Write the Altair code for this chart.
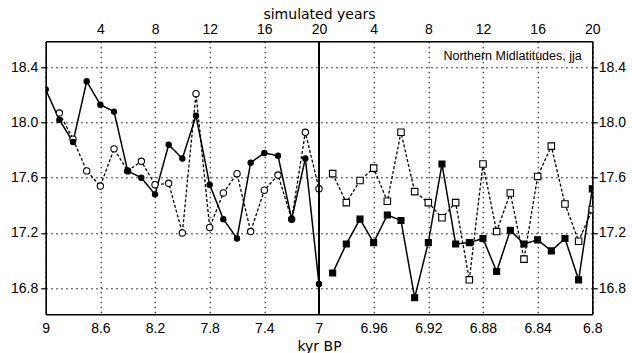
import altair as alt
import pandas as pd

# ---- axis tick values / labels ----
tick_pos = [0, 4, 8, 12, 16, 20, 24, 28, 32, 36, 40]
kyr_labels = ["9", "8.6", "8.2", "7.8", "7.4", "7", "6.96", "6.92", "6.88", "6.84", "6.8"]
year_labels = ["", "4", "8", "12", "16", "20", "4", "8", "12", "16", "20"]
y_ticks = [16.8, 17.2, 17.6, 18.0, 18.4]
y_domain = [16.61, 18.59]
x_domain = [0, 40]
panel_break = 20
title_text = "Northern Midlatitudes, jja"

# ---- data: position on the combined simulated-year axis ----
# left run (9 -> 7 kyr BP), simulated years 0..20
left_solid_pos = [0, 1, 2, 3, 4, 5, 6, 7, 8, 9, 10, 11, 12, 13, 14, 15, 16, 17, 18, 19, 20]
left_solid = [18.24, 18.02, 17.86, 18.30, 18.13, 18.08, 17.65, 17.60, 17.48, 17.84, 17.74,
              18.05, 17.55, 17.30, 17.16, 17.71, 17.78, 17.76, 17.30, 17.74, 16.83]
left_dash_pos = [1, 2, 3, 4, 5, 6, 7, 8, 9, 10, 11, 12, 13, 14, 15, 16, 17, 18, 19, 20]
left_dash = [18.07, 17.88, 17.65, 17.54, 17.81, 17.65, 17.72, 17.55, 17.56, 17.20,
             18.21, 17.24, 17.49, 17.63, 17.21, 17.51, 17.62, 17.30, 17.93, 17.52]
# right run (7 -> 6.8 kyr BP), simulated years 1..20 (placed at 21..40)
right_pos = [21, 22, 23, 24, 25, 26, 27, 28, 29, 30, 31, 32, 33, 34, 35, 36, 37, 38, 39, 40]
right_solid = [16.91, 17.12, 17.30, 17.13, 17.33, 17.29, 16.73, 17.13, 17.70, 17.12,
               17.13, 17.16, 16.92, 17.22, 17.12, 17.15, 17.07, 17.16, 16.86, 17.52]
right_dash = [17.63, 17.42, 17.58, 17.67, 17.43, 17.93, 17.50, 17.42, 17.31, 17.42,
              16.86, 17.70, 17.21, 17.49, 17.01, 17.61, 17.83, 17.41, 17.14, 17.37]

df_ls = pd.DataFrame({"pos": left_solid_pos, "value": left_solid})
df_ld = pd.DataFrame({"pos": left_dash_pos, "value": left_dash})
df_rs = pd.DataFrame({"pos": right_pos, "value": right_solid})
df_rd = pd.DataFrame({"pos": right_pos, "value": right_dash})

FONT = "Liberation Sans"
TFONT = "DejaVu Sans"

def arr(lst):
    return "[" + ",".join("'" + s + "'" for s in lst) + "]"

x_bottom = alt.X(
    "pos:Q",
    scale=alt.Scale(domain=x_domain, nice=False, zero=False),
    axis=alt.Axis(
        values=tick_pos, labelExpr=arr(kyr_labels) + "[round(datum.value/4)]",
        title="kyr  BP", titleY=36.5, titleBaseline="alphabetic",
        ticks=False, tickSize=0, labelPadding=18, labelBaseline="alphabetic",
        labelFlush=False, labelOverlap=False, grid=True,
    ),
)
y_left = alt.Y(
    "value:Q",
    scale=alt.Scale(domain=y_domain, nice=False, zero=False),
    axis=alt.Axis(values=y_ticks, format=".1f", title=None, ticks=True, tickSize=5,
                  labelPadding=3, grid=True, labelOverlap=False, labelFlush=False),
)

def line(df, dash):
    m = alt.Chart(df).mark_line(color="black", strokeWidth=1.3 if dash else 1.5,
                                strokeDash=[3, 2] if dash else [1, 0], clip=True)
    return m.encode(x=x_bottom, y=y_left)

def pts(df, shape, filled, size):
    m = alt.Chart(df).mark_point(shape=shape, filled=True, size=size,
                                 fill="black" if filled else "white",
                                 stroke="black", strokeWidth=1.1, opacity=1, clip=True)
    return m.encode(x=x_bottom, y=y_left)

vline = alt.Chart(pd.DataFrame({"pos": [panel_break]})).mark_rule(
    color="black", strokeWidth=2).encode(x=x_bottom)

label = alt.Chart(pd.DataFrame({"t": [title_text]})).mark_text(
    align="right", baseline="alphabetic", font=FONT, fontSize=12.5, color="black"
).encode(x=alt.value(536), y=alt.value(18.5), text="t:N")

main = alt.layer(
    line(df_ld, True), line(df_rd, True),
    line(df_ls, False), line(df_rs, False),
    pts(df_ld, "circle", False, 40), pts(df_rd, "square", False, 42),
    pts(df_ls, "circle", True, 28), pts(df_rs, "square", True, 36),
    vline, label,
)

dummy = alt.Chart(pd.DataFrame({"pos": x_domain, "value": y_domain})).mark_point(
    opacity=0).encode(
    x=alt.X("pos:Q", scale=alt.Scale(domain=x_domain, nice=False, zero=False),
            axis=alt.Axis(orient="top", values=tick_pos,
                          labelExpr=arr(year_labels) + "[round(datum.value/4)]",
                          title="simulated  years", titleY=-22.8, titleBaseline="alphabetic",
                          ticks=False, tickSize=0, labelPadding=8, labelBaseline="alphabetic",
                          labelFlush=False, labelOverlap=False, grid=False)),
    y=alt.Y("value:Q", scale=alt.Scale(domain=y_domain, nice=False, zero=False),
            axis=alt.Axis(orient="right", values=y_ticks, format=".1f", title=None,
                          ticks=True, tickSize=5, labelPadding=1, grid=False,
                          labelOverlap=False, labelFlush=False)),
)

chart = alt.layer(main, dummy).resolve_scale(x="independent", y="independent").properties(
    width=546.6, height=273,
    autosize=alt.AutoSizeParams(type="none"),
    padding={"left": 45.7, "top": 41.3, "right": 39.7, "bottom": 38.7},
).configure_view(stroke=None).configure_axis(
    labelFont=FONT, labelFontSize=14, labelColor="black",
    titleFont=TFONT, titleFontSize=14, titleFontWeight="normal", titleColor="black",
    domainColor="black", domainWidth=1.6, tickColor="black", tickWidth=1.2,
    gridColor="black", gridDash=[1.5, 3.5], gridWidth=1, gridOpacity=1,
)

chart.save("out.html", embed_options={"renderer": "svg", "actions": False})
